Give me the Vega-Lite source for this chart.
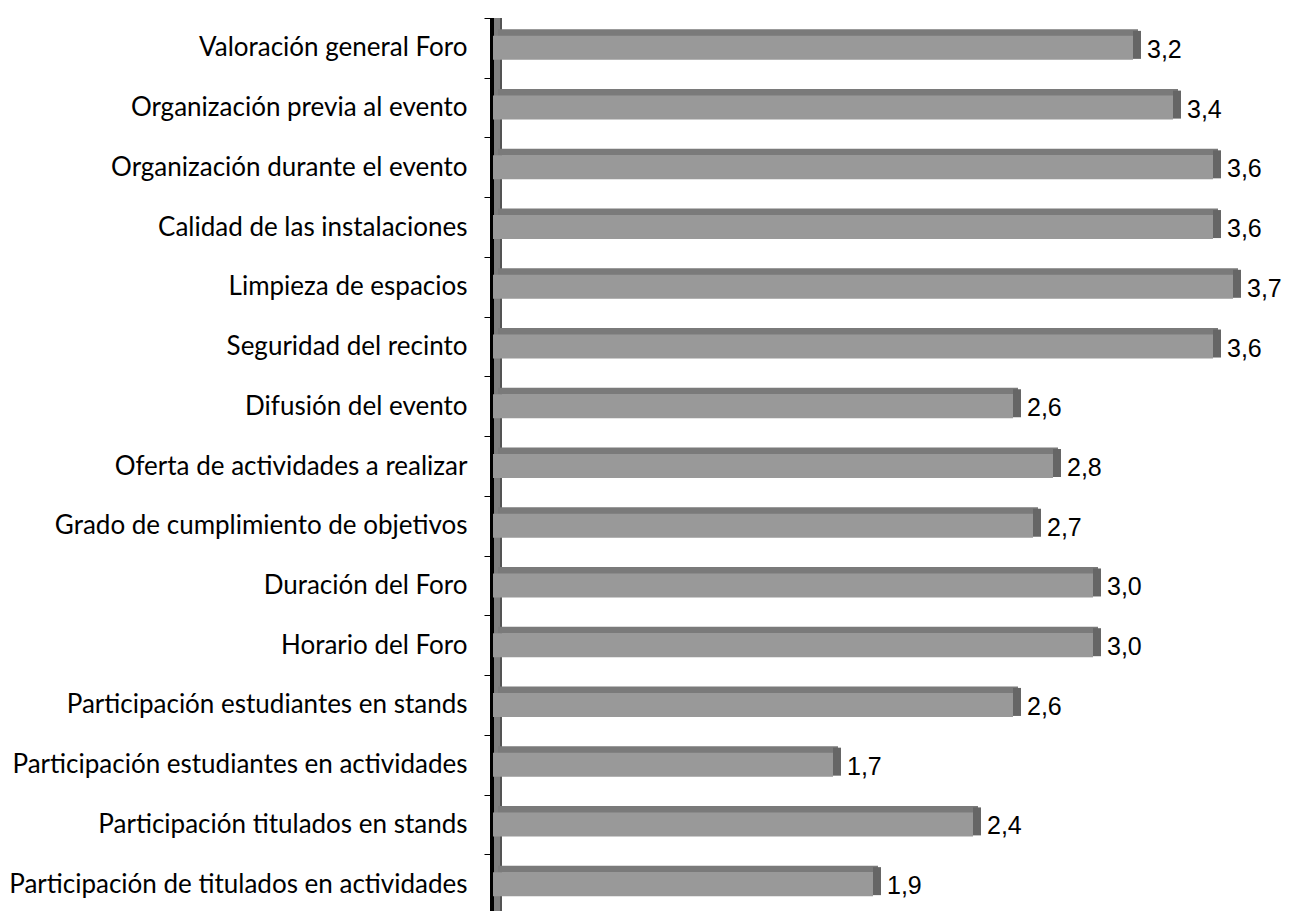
{
  "$schema": "https://vega.github.io/schema/vega-lite/v6.json",
  "autosize": "none",
  "width": 800,
  "height": 896,
  "padding": {"left": 493, "top": 18, "right": 3, "bottom": 0},
  "background": "white",
  "config": {
    "view": {"stroke": null},
    "locale": {"number": {"decimal": ",", "thousands": ".", "grouping": [3], "currency": ["", " €"]}}
  },
  "data": {
    "values": [
      {"item": "Valoración general Foro", "value": 3.2},
      {"item": "Organización previa al evento", "value": 3.4},
      {"item": "Organización durante el evento", "value": 3.6},
      {"item": "Calidad de las instalaciones", "value": 3.6},
      {"item": "Limpieza de espacios", "value": 3.7},
      {"item": "Seguridad del recinto", "value": 3.6},
      {"item": "Difusión del evento", "value": 2.6},
      {"item": "Oferta de actividades a realizar", "value": 2.8},
      {"item": "Grado de cumplimiento de objetivos", "value": 2.7},
      {"item": "Duración del Foro", "value": 3.0},
      {"item": "Horario del Foro", "value": 3.0},
      {"item": "Participación estudiantes en stands", "value": 2.6},
      {"item": "Participación estudiantes en actividades", "value": 1.7},
      {"item": "Participación titulados en stands", "value": 2.4},
      {"item": "Participación de titulados en actividades", "value": 1.9}
    ]
  },
  "encoding": {
    "y": {
      "field": "item",
      "type": "nominal",
      "sort": null,
      "scale": {"paddingInner": 0, "paddingOuter": 0},
      "axis": {
        "title": null,
        "domain": false,
        "ticks": true,
        "tickBand": "extent",
        "tickSize": 9,
        "tickColor": "#000000",
        "tickWidth": 1,
        "labelFont": "Lato",
        "labelFontSize": 26,
        "labelColor": "#000000",
        "labelPadding": 17,
        "labelLimit": 0,
        "grid": false
      }
    }
  },
  "layer": [
    {
      "mark": {"type": "rule", "color": "#808080", "strokeWidth": 8, "xOffset": 4, "opacity": 1},
      "encoding": {"x": {"datum": 0, "type": "quantitative", "scale": {"domain": [0, 4]}, "axis": null}, "y": null}
    },
    {
      "mark": {"type": "rule", "color": "#555555", "strokeWidth": 1.5, "xOffset": 8, "opacity": 1},
      "encoding": {"x": {"datum": 0, "type": "quantitative"}, "y": null}
    },
    {
      "mark": {"type": "rule", "color": "#000000", "strokeWidth": 3, "xOffset": -1, "opacity": 1},
      "encoding": {"x": {"datum": 0, "type": "quantitative"}, "y": null}
    },
    {
      "mark": {"type": "bar", "color": "#7a7a7a", "size": 7, "yOffset": -15, "xOffset": 5, "opacity": 1},
      "encoding": {"x": {"field": "value", "type": "quantitative"}}
    },
    {
      "mark": {"type": "tick", "color": "#666666", "thickness": 8, "size": 28, "xOffset": 4, "yOffset": -3, "opacity": 1},
      "encoding": {"x": {"field": "value", "type": "quantitative"}}
    },
    {
      "mark": {"type": "bar", "color": "#999999", "size": 24, "opacity": 1},
      "encoding": {"x": {"field": "value", "type": "quantitative"}}
    },
    {
      "mark": {"type": "text", "align": "left", "baseline": "middle", "dx": 14, "dy": 2, "font": "Liberation Sans", "fontSize": 25, "color": "#000000"},
      "encoding": {
        "x": {"field": "value", "type": "quantitative"},
        "text": {"field": "value", "type": "quantitative", "format": ".1f"}
      }
    }
  ]
}
